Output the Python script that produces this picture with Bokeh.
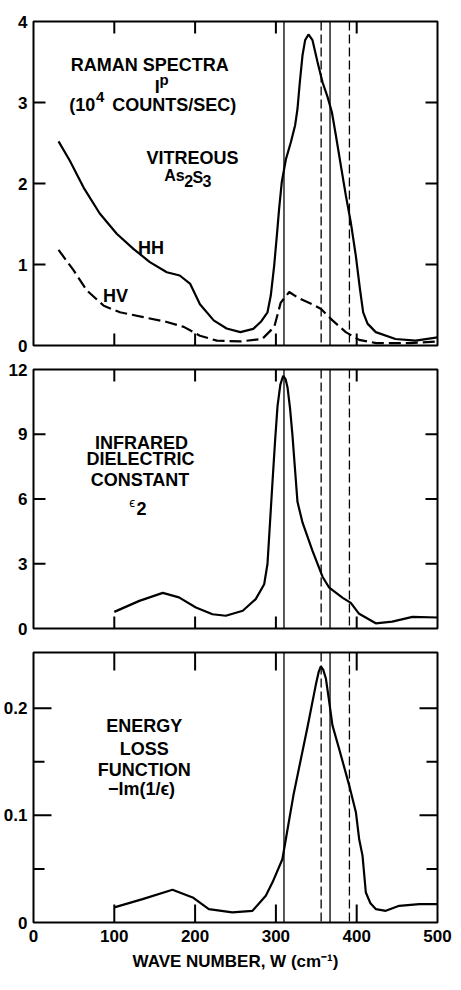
from bokeh.plotting import figure
from bokeh.models import LinearAxis, FixedTicker, Span, Label, Range1d
from bokeh.layouts import column
from bokeh.embed import file_html
from bokeh.resources import INLINE

FONT = "Liberation Sans"

# ---------------- data ----------------
# Raman HH (solid)
hh_x = [31, 45, 62, 82, 103, 124, 144, 165, 181, 194, 206, 223, 239, 256, 272,
        282, 289.6, 293.7, 297.9, 301.2, 304, 307.3, 312.4, 318.5, 323.8, 326.7,
        329.6, 332.9, 336.2, 340.3, 345.3, 351.5, 357.7, 363.9, 369.3, 374.3,
        380.4, 386.6, 392.7, 398.9, 404, 408, 413.4, 423.6, 448, 473, 500]
hh_y = [2.52, 2.28, 1.95, 1.63, 1.38, 1.19, 1.03, 0.905, 0.864, 0.76, 0.51, 0.31,
        0.21, 0.165, 0.205, 0.30, 0.41, 0.62, 0.99, 1.36, 1.69, 2.02, 2.30, 2.51,
        2.72, 2.92, 3.25, 3.58, 3.77, 3.84, 3.77, 3.50, 3.25, 3.07, 2.88, 2.59,
        2.22, 1.85, 1.52, 1.11, 0.70, 0.41, 0.27, 0.165, 0.08, 0.06, 0.10]
# Raman HV (dashed)
hv_x = [31, 49.5, 66, 87, 107, 136, 165, 186, 206, 227, 256, 283, 298, 306,
        316.5, 329, 345, 356, 370, 386.5, 403, 424, 465, 500]
hv_y = [1.18, 0.93, 0.68, 0.49, 0.41, 0.35, 0.29, 0.23, 0.12, 0.06, 0.05, 0.08,
        0.23, 0.53, 0.66, 0.58, 0.51, 0.45, 0.31, 0.165, 0.07, 0.03, 0.03, 0.05]
# Infrared dielectric constant eps2
eps_x = [100, 131, 160, 180, 201, 221.5, 238, 259, 275, 285.5, 289.6, 292.7, 295.8,
         299, 302, 305.5, 309, 312, 314.4, 317.5, 320.5, 323.6, 326.7, 333,
         345.3, 357.7, 366, 382.7, 392.7, 403, 423.6, 444, 469, 500]
eps_y = [0.77, 1.28, 1.65, 1.44, 0.97, 0.66, 0.59, 0.82, 1.36, 2.05, 3.0, 4.9, 6.8,
         8.7, 10.3, 11.3, 11.71, 11.55, 11.17, 10.2, 8.95, 7.4, 5.87, 4.9,
         3.6, 2.4, 1.89, 1.42, 1.19, 0.68, 0.24, 0.32, 0.54, 0.51]
# Energy loss function -Im(1/eps)
loss_x = [100, 135, 172, 197, 217, 246, 271, 287.5, 295.8, 308, 322, 339, 349.4,
          353, 355.6, 358.5, 361.8, 366, 370, 378.3, 390.7, 399, 403, 407.2,
          411.3, 417, 423.6, 436, 452.6, 477.4, 500]
loss_y = [0.0141, 0.0218, 0.0306, 0.0234, 0.0125, 0.0094, 0.0109, 0.025, 0.0375,
          0.059, 0.12, 0.182, 0.2218, 0.234, 0.239, 0.236, 0.228, 0.206, 0.184,
          0.162, 0.128, 0.103, 0.078, 0.0624, 0.028, 0.018, 0.0125, 0.0109,
          0.0156, 0.0172, 0.0172]

to_lines = [310, 367]
lo_lines = [356, 391]
mode_labels = ["TO", "LO", "TO", "LO"]
mode_label_x = [309, 346.5, 380, 416.5]

x_ticks_inner = [100, 200, 300, 400]
x_ticks = [0, 100, 200, 300, 400, 500]
raman_ticks = [0, 1, 2, 3, 4]
raman_inner = [1, 2, 3]
eps_ticks = [0, 3, 6, 9, 12]
eps_inner = [3, 6, 9]
loss_ticks = [0, 0.1, 0.2]
loss_inner = [0.1, 0.2]
loss_minor = [0.05, 0.15]
loss_tick_labels = {0: "0", 0.1: "0.1", 0.2: "0.2"}

X_MIN, X_MAX = 0, 500
FRAME_W = 404  # plot-frame width in px (452 - 33 - 15)


def make_fig(height, ymax, min_top, min_bottom):
    p = figure(width=452, height=height, x_range=Range1d(X_MIN, X_MAX),
               y_range=Range1d(0, ymax), output_backend="svg",
               toolbar_location=None, tools="", x_axis_location=None,
               y_axis_location=None, min_border_left=33, min_border_right=15,
               min_border_top=min_top, min_border_bottom=min_bottom)
    p.grid.visible = False
    p.outline_line_color = "black"
    p.outline_line_width = 2
    p.background_fill_color = "white"
    p.border_fill_color = "white"
    return p


def add_axis(p, side, ticks, overrides=None, title=None):
    ax = LinearAxis(ticker=FixedTicker(ticks=ticks, minor_ticks=[]))
    ax.axis_line_color = None
    ax.major_tick_line_color = None
    ax.minor_tick_line_color = None
    ax.major_tick_in = 0
    ax.major_tick_out = 0
    ax.minor_tick_in = 0
    ax.minor_tick_out = 0
    ax.major_label_text_font = FONT
    ax.major_label_text_font_size = "17px"
    ax.major_label_text_font_style = "bold"
    ax.major_label_text_color = "black"
    ax.major_label_standoff = 6 if side == "left" else 7
    if overrides:
        ax.major_label_overrides = overrides
    if title:
        ax.axis_label = title
        ax.axis_label_text_font = FONT
        ax.axis_label_text_font_size = "17px"
        ax.axis_label_text_font_style = "bold"
        ax.axis_label_text_color = "black"
        ax.axis_label_standoff = 7
    p.add_layout(ax, side)


def add_ticks(p, ymax, frame_h, yticks, xlen_px, ylen_px, yminor=None,
              minor_px=0):
    # inward tick marks on all four sides
    dx = (X_MAX - X_MIN) / FRAME_W
    dy = ymax / frame_h
    kw = dict(line_color="black", line_width=2)
    n = len(yticks)
    p.segment(x0=[X_MIN] * n, x1=[X_MIN + ylen_px * dx] * n, y0=yticks,
              y1=yticks, **kw)
    p.segment(x0=[X_MAX] * n, x1=[X_MAX - ylen_px * dx] * n, y0=yticks,
              y1=yticks, **kw)
    if yminor:
        m = len(yminor)
        p.segment(x0=[X_MIN] * m, x1=[X_MIN + minor_px * dx] * m, y0=yminor,
                  y1=yminor, **kw)
        p.segment(x0=[X_MAX] * m, x1=[X_MAX - minor_px * dx] * m, y0=yminor,
                  y1=yminor, **kw)
    k = len(x_ticks_inner)
    p.segment(x0=x_ticks_inner, x1=x_ticks_inner, y0=[0] * k,
              y1=[xlen_px * dy] * k, **kw)
    p.segment(x0=x_ticks_inner, x1=x_ticks_inner, y0=[ymax] * k,
              y1=[ymax - xlen_px * dy] * k, **kw)


def add_lines(p):
    for loc in to_lines:
        p.add_layout(Span(location=loc, dimension="height", line_color="black",
                          line_width=1.3, level="underlay"))
    for loc in lo_lines:
        p.add_layout(Span(location=loc, dimension="height", line_color="black",
                          line_width=1.3, line_dash="9 4", level="underlay"))


def txt(p, x, y, s, size=18, align="center", style="bold"):
    p.add_layout(Label(x=x, y=y, text=s, text_font=FONT,
                       text_font_size=f"{size}px", text_font_style=style,
                       text_align=align, text_baseline="alphabetic",
                       text_color="black"))


# ---------------- top: Raman ----------------
p1 = make_fig(357, raman_ticks[-1], 21, 12)
add_axis(p1, "left", raman_ticks)
add_lines(p1)
p1.line(hh_x, hh_y, line_color="black", line_width=2.2)
p1.line(hv_x, hv_y, line_color="black", line_width=2.2, line_dash="12 5")
add_ticks(p1, raman_ticks[-1], 324, raman_inner, 12, 12)
for lx, lt in zip(mode_label_x, mode_labels):
    txt(p1, lx, 4.074, lt)
txt(p1, 144, 3.457, "RAMAN SPECTRA")
txt(p1, 150.1, 3.194, "I", align="left")
txt(p1, 155.8, 3.278, "p", size=15, align="left")
txt(p1, 44.2, 2.967, "(10", align="left")
txt(p1, 77.5, 3.07, "4", size=15, align="left")
txt(p1, 97.5, 2.967, "COUNTS/SEC)", align="left")
txt(p1, 196.8, 2.317, "VITREOUS")
txt(p1, 161.8, 2.099, "As", size=16, align="left")
txt(p1, 186.5, 2.037, "2", size=16, align="left")
txt(p1, 196.8, 2.074, "S", size=16, align="left")
txt(p1, 209.2, 2.028, "3", size=16, align="left")
txt(p1, 145.4, 1.206, "HH")
txt(p1, 101.5, 0.609, "HV")

# ---------------- middle: eps2 ----------------
p2 = make_fig(283, eps_ticks[-1], 12, 12)
add_axis(p2, "left", eps_ticks)
add_lines(p2)
p2.line(eps_x, eps_y, line_color="black", line_width=2.2)
add_ticks(p2, eps_ticks[-1], 259, eps_inner, 12, 12)
txt(p2, 133.7, 8.573, "INFRARED")
txt(p2, 132.4, 7.845, "DIELECTRIC")
txt(p2, 131.8, 6.858, "CONSTANT")
txt(p2, 118.4, 5.84, "ϵ", size=13, align="left", style="normal")
txt(p2, 127.5, 5.537, "2", align="left")

# ---------------- bottom: loss ----------------
LOSS_MAX = 0.252
p3 = make_fig(334, LOSS_MAX, 12, 52)
add_axis(p3, "left", loss_ticks, overrides=loss_tick_labels)
add_axis(p3, "below", x_ticks, title="WAVE NUMBER, W (cm⁻¹)")
add_lines(p3)
p3.line(loss_x, loss_y, line_color="black", line_width=2.2)
add_ticks(p3, LOSS_MAX, 270, loss_inner, 18, 18, yminor=loss_minor,
          minor_px=11)
txt(p3, 137, 0.1837, "ENERGY")
txt(p3, 137, 0.1624, "LOSS")
txt(p3, 137, 0.1421, "FUNCTION")
txt(p3, 133.7, 0.125, "−Im(1/ϵ)")

layout = column(p1, p2, p3, spacing=0)
open("out.html", "w").write(file_html(layout, INLINE))
